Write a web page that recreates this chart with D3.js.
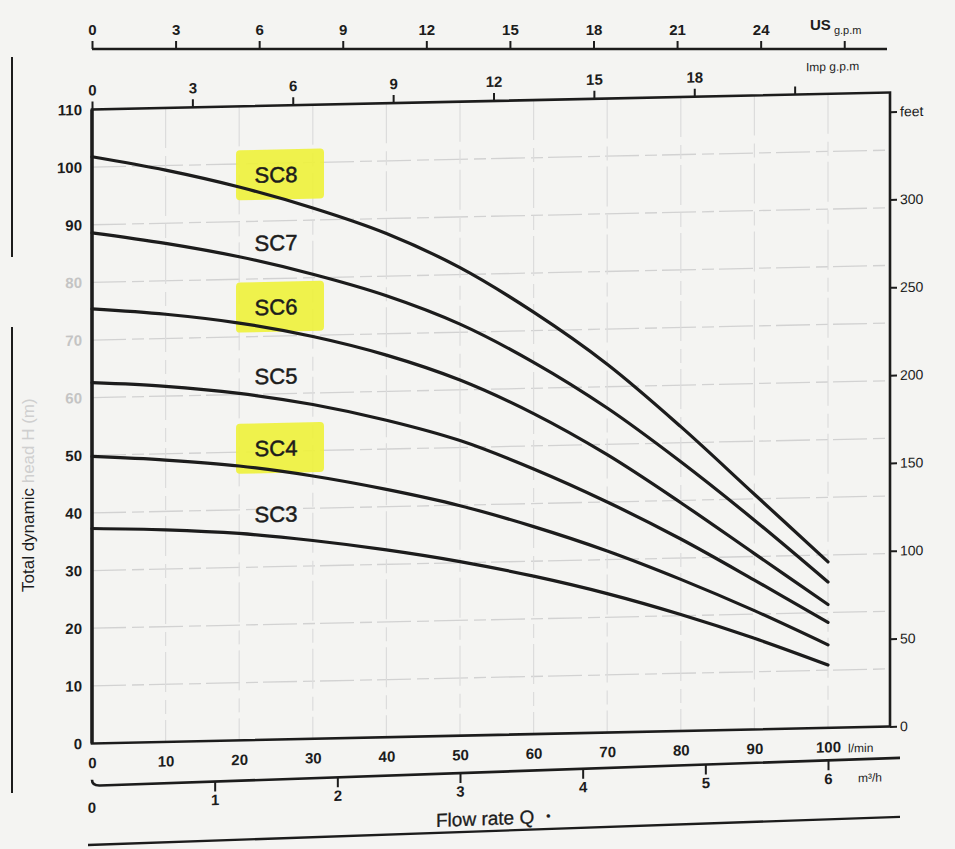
<!DOCTYPE html>
<html>
<head>
<meta charset="utf-8">
<script src="https://cdn.jsdelivr.net/npm/d3@7"></script>
<style>
  body { margin: 0; background: #f4f4f2; }
  text { font-family: "Liberation Sans", Arial, sans-serif; }
</style>
</head>
<body>
<svg id="chart"></svg>
<script>
// flow rate, l/min
const flow = [0, 10, 20, 30, 40, 50, 60, 70, 80, 90, 100]
// total dynamic head, m
const sc3 = [37.3, 36.8, 35.9, 34.4, 32.5, 30.2, 27.4, 24.1, 20.2, 15.8, 10.9]
const sc4 = [49.8, 48.9, 47.6, 45.6, 43.0, 39.9, 36.0, 31.5, 26.3, 20.6, 14.4]
const sc5 = [62.6, 61.7, 60.2, 58.0, 55.0, 51.2, 46.0, 40.0, 33.3, 25.9, 18.3]
const sc6 = [75.4, 74.2, 72.4, 69.8, 66.3, 61.7, 55.6, 48.2, 39.6, 30.5, 21.4]
const sc7 = [88.6, 86.5, 83.9, 80.6, 76.6, 71.4, 64.5, 56.3, 46.7, 36.3, 25.3]
const sc8 = [101.8, 99.2, 96.0, 92.1, 87.4, 81.2, 73.2, 63.9, 52.8, 40.8, 28.8]

const models = ['SC3', 'SC4', 'SC5', 'SC6', 'SC7', 'SC8']
const heads = [sc3, sc4, sc5, sc6, sc7, sc8]
const marked = ['SC4', 'SC6', 'SC8']

const headTicks = d3.range(0, 111, 10)
const feetTicks = [0, 50, 100, 150, 200, 250, 300, 350]
const flowTicks = d3.range(0, 101, 10)
const m3hTicks = [0, 1, 2, 3, 4, 5, 6]
const usTicks = [0, 3, 6, 9, 12, 15, 18, 21, 24, 27]
const impTicks = [0, 3, 6, 9, 12, 15, 18, 21]

const LPM_US = 3.78541
const LPM_IMP = 4.54609
const M_FT = 0.3048

const width = 955
const height = 849
const fadedTicks = [60, 70, 80]
const ink = '#1c1c1c'
const font = '"Liberation Sans", Arial, sans-serif'

const svg = d3.select('#chart')
  .attr('width', width)
  .attr('height', height)

// the sheet was photographed a little crooked
const skew = (angle, cx = 491) => `translate(${cx},0) skewY(${angle}) translate(${-cx},0)`

const pLeft = 92
const pRight = 890
const pTop = 101
const pBottom = 735

const x = d3.scaleLinear().domain([0, 100]).range([pLeft, 828])
const y = d3.scaleLinear().domain([0, 110]).range([pBottom, pTop])
const yFeet = d3.scaleLinear().domain([0, 110 / M_FT]).range([pBottom, pTop])
const xUS = d3.scaleLinear().domain([0, 100 / LPM_US]).range(x.range())
const xImp = d3.scaleLinear().domain([0, 100 / LPM_IMP]).range(x.range())
const xM3 = d3.scaleLinear().domain([0, 6]).range(x.range())

const styleAxis = (g, size, weight) => {
  g.attr('font-size', size)
    .attr('font-family', font)
    .attr('font-weight', weight)
  g.selectAll('.tick line').attr('stroke', ink).attr('stroke-width', 2)
  g.selectAll('.tick text').attr('fill', ink)
  g.select('.domain').remove()
}

// ---- main sheet
const g = svg.append('g').attr('transform', skew(-1.22))

// grid
g.append('g')
  .selectAll('line')
  .data(d3.range(10, 101, 10))
  .join('line')
  .attr('x1', pLeft).attr('x2', pRight)
  .attr('y1', d => y(d)).attr('y2', d => y(d))
  .attr('stroke', '#d2d2d2')
  .attr('stroke-width', 1.3)
  .attr('stroke-dasharray', '34,6,12,5')

g.append('g')
  .selectAll('line')
  .data(d3.range(10, 101, 10))
  .join('line')
  .attr('x1', d => x(d)).attr('x2', d => x(d))
  .attr('y1', pTop).attr('y2', pBottom)
  .attr('stroke', '#dcdcdc')
  .attr('stroke-width', 1.2)
  .attr('stroke-dasharray', '40,8,14,6')

// highlighter marks behind the labels
const labelAt = (i) => {
  const h = d3.scaleLinear().domain(flow).range(heads[i])
  return [x(25), y(h(25)) - 23]
}

g.append('g')
  .selectAll('rect')
  .data(models.filter(m => marked.includes(m)))
  .join('rect')
  .attr('x', m => labelAt(models.indexOf(m))[0] - 40)
  .attr('y', m => labelAt(models.indexOf(m))[1] - 25)
  .attr('width', 88)
  .attr('height', 50)
  .attr('rx', 4)
  .attr('fill', '#eef23a')
  .attr('opacity', 0.9)

// curves
const line = d3.line()
  .x((d, i) => x(flow[i]))
  .y(d => y(d))
  .curve(d3.curveCatmullRom.alpha(0.5))

g.append('g')
  .selectAll('path')
  .data(heads)
  .join('path')
  .attr('d', line)
  .attr('fill', 'none')
  .attr('stroke', ink)
  .attr('stroke-width', 3.2)
  .attr('stroke-linecap', 'round')

g.append('g')
  .selectAll('text')
  .data(models)
  .join('text')
  .attr('x', (m, i) => labelAt(i)[0])
  .attr('y', (m, i) => labelAt(i)[1])
  .attr('dy', '0.36em')
  .attr('text-anchor', 'middle')
  .attr('font-size', 22)
  .attr('fill', ink)
  .attr('stroke', ink)
  .attr('stroke-width', 0.5)
  .text(m => m)

// frame
g.append('rect')
  .attr('x', pLeft).attr('y', pTop)
  .attr('width', pRight - pLeft).attr('height', pBottom - pTop)
  .attr('fill', 'none')
  .attr('stroke', ink)
  .attr('stroke-width', 2.6)
g.append('line')
  .attr('x1', pLeft).attr('x2', pLeft)
  .attr('y1', pTop).attr('y2', pBottom)
  .attr('stroke', ink).attr('stroke-width', 3.4)

// head in metres
g.append('g')
  .attr('transform', `translate(${pLeft},0)`)
  .call(d3.axisLeft(y).tickValues(headTicks).tickSize(0).tickPadding(10))
  .call(a => styleAxis(a, 15, 'bold'))
  .call(a => a.selectAll('.tick text')
    .attr('fill', d => fadedTicks.includes(d) ? '#c4c4c4' : ink))

// head in feet
g.append('g')
  .attr('transform', `translate(${pRight},0)`)
  .call(d3.axisRight(yFeet).tickValues(feetTicks).tickSize(7).tickPadding(3)
    .tickFormat(d => d === 350 ? 'feet' : d))
  .call(a => styleAxis(a, 14, 'normal'))

// Imp g.p.m on the top edge
g.append('g')
  .attr('transform', `translate(0,${pTop})`)
  .call(d3.axisTop(xImp).tickValues(impTicks).tickSize(8).tickPadding(6)
    .tickFormat(d => d === 21 ? '' : d))
  .call(a => styleAxis(a, 15, 'bold'))
g.append('text')
  .attr('x', 806).attr('y', pTop - 23)
  .attr('font-size', 12)
  .attr('fill', ink)
  .text('Imp g.p.m')

// l/min under the bottom edge
g.append('g')
  .attr('transform', `translate(0,${pBottom})`)
  .call(d3.axisBottom(x).tickValues(flowTicks).tickSize(0).tickPadding(14))
  .call(a => styleAxis(a, 15, 'bold'))
g.append('text')
  .attr('x', x(100) + 20).attr('y', pBottom + 25)
  .attr('font-size', 12)
  .attr('fill', ink)
  .text('l/min')

// ---- US g.p.m along the top
const us = svg.append('g')
us.append('line')
  .attr('x1', pLeft).attr('x2', 887)
  .attr('y1', 49).attr('y2', 49)
  .attr('stroke', ink).attr('stroke-width', 2.6)
us.append('g')
  .attr('transform', 'translate(0,49)')
  .call(d3.axisTop(xUS).tickValues(usTicks).tickSize(8).tickPadding(6)
    .tickFormat(d => d === 27 ? '' : d))
  .call(a => styleAxis(a, 15, 'bold'))
us.append('text')
  .attr('x', 810).attr('y', 30)
  .attr('font-size', 15)
  .attr('font-weight', 'bold')
  .attr('fill', ink)
  .text('US')
  .append('tspan')
  .attr('font-size', 11)
  .attr('font-weight', 'normal')
  .attr('dy', 4)
  .text(' g.p.m')

// ---- m³/h and the flow title, more crooked still
const lower = svg.append('g').attr('transform', skew(-1.98))
lower.append('path')
  .attr('d', `M${pLeft},766 Q${pLeft},772 ${pLeft + 8},772 L900,772`)
  .attr('fill', 'none')
  .attr('stroke', ink).attr('stroke-width', 2.6)
lower.append('g')
  .attr('transform', 'translate(0,772)')
  .call(d3.axisBottom(xM3).tickValues(m3hTicks.slice(1)).tickSize(10).tickPadding(3)
    .tickFormat(d3.format('d')))
  .call(a => styleAxis(a, 15, 'bold'))
lower.append('text')
  .attr('x', xM3(0)).attr('y', 772 + 27)
  .attr('text-anchor', 'middle')
  .attr('font-size', 15).attr('font-weight', 'bold')
  .attr('fill', ink)
  .text(m3hTicks[0])
lower.append('text')
  .attr('x', 858).attr('y', 772 + 23)
  .attr('font-size', 12)
  .attr('fill', ink)
  .text('m³/h')
lower.append('text')
  .attr('x', 436).attr('y', 825)
  .attr('font-size', 19)
  .attr('fill', ink)
  .attr('stroke', ink).attr('stroke-width', 0.3)
  .text('Flow rate Q')
  .append('tspan')
  .attr('font-size', 12)
  .attr('dx', 12)
  .attr('dy', -3)
  .text('•')
lower.append('line')
  .attr('x1', 88).attr('x2', 900)
  .attr('y1', 831).attr('y2', 831)
  .attr('stroke', ink).attr('stroke-width', 2.4)

// ---- left margin: rule and axis title
svg.append('g')
  .selectAll('line')
  .data([[57, 257], [327, 793]])
  .join('line')
  .attr('x1', 12).attr('x2', 12)
  .attr('y1', d => d[0]).attr('y2', d => d[1])
  .attr('stroke', ink).attr('stroke-width', 2)

svg.append('text')
  .attr('transform', 'translate(34,592) rotate(-90)')
  .attr('font-size', 17)
  .attr('fill', ink)
  .text('Total dynamic ')
  .append('tspan')
  .attr('fill', '#cfcfcf')
  .text('head H (m)')
</script>
</body>
</html>
